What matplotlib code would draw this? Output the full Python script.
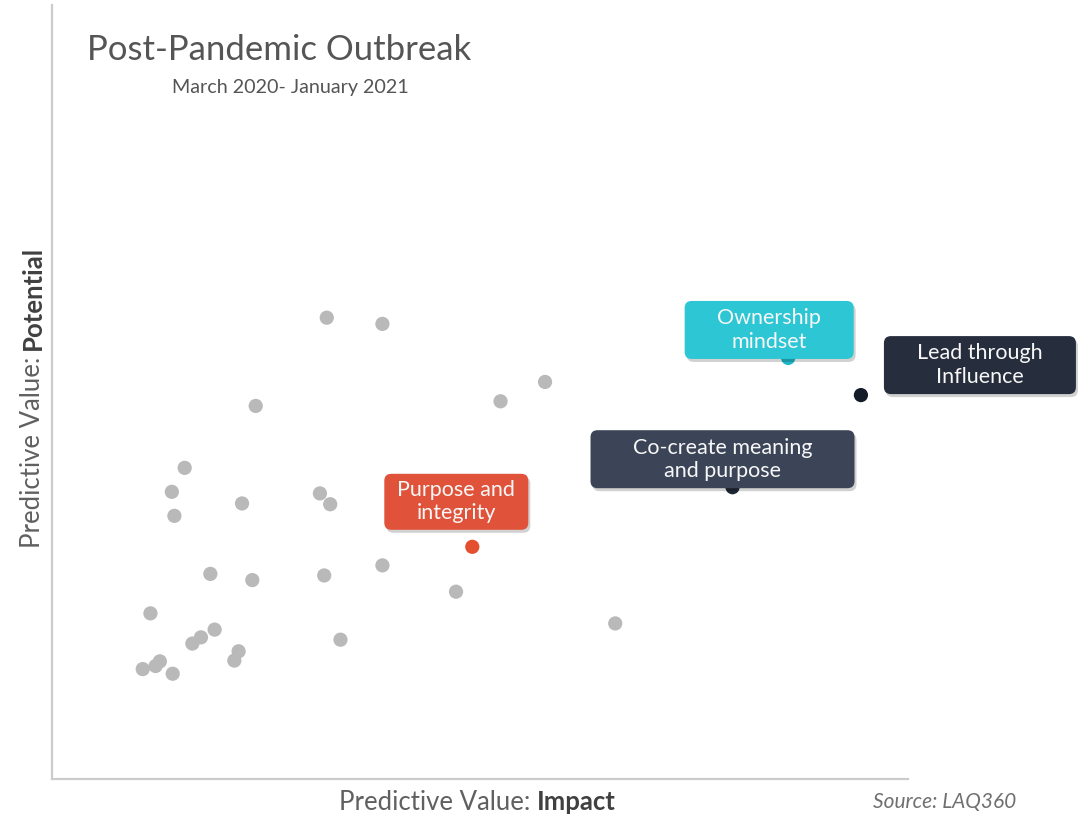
import matplotlib.pyplot as plt
import matplotlib.transforms as mtransforms
from matplotlib.patches import FancyBboxPatch

plt.rcParams['font.family'] = ['Lato', 'DejaVu Sans']

# background competencies (impact, potential)
gray_x = [32.1, 38.6, 23.8, 15.5, 14.0, 14.3, 22.2, 31.3, 32.5, 18.5, 23.4, 31.8, 38.6, 47.2,
          65.8, 11.5, 19.0, 17.4, 16.4, 21.8, 21.3, 33.7, 10.6, 12.6, 12.1, 14.1, 57.6, 52.4]
gray_y = [59.6, 58.8, 48.2, 40.2, 37.1, 34.0, 35.6, 36.9, 35.5, 26.5, 25.7, 26.3, 27.6, 24.2,
          20.1, 21.4, 19.3, 18.3, 17.5, 16.5, 15.3, 18.0, 14.2, 15.2, 14.6, 13.6, 51.3, 48.8]

# highlighted competencies
hl_labels = ['Purpose and\nintegrity', 'Co-create meaning\nand purpose',
             'Ownership\nmindset', 'Lead through\nInfluence']
hl_x = [49.1, 79.5, 86.0, 94.5]
hl_y = [30.0, 37.7, 54.4, 49.6]
hl_dot = ['#e4502f', '#1f2735', '#1fb7c6', '#141b29']
hl_box = ['#e0533a', '#3c4558', '#2cc6d4', '#262d3c']
# label box: centre offset from the point and size, in pixels
box_dx = [-16, -10, -19, 119]
box_dy = [45, 28, 28, 30]
box_w = [144, 264, 169, 192]
box_h = [56, 58, 58, 58]

fig = plt.figure(figsize=(10.84, 8.17), dpi=100)
ax = fig.add_axes([52 / 1084, 38 / 817, 856 / 1084, 774 / 817])
ax.set_xlim(0, 100)
ax.set_ylim(0, 100)
ax.set_xticks([])
ax.set_yticks([])
for side in ['top', 'right']:
    ax.spines[side].set_visible(False)
for side in ['left', 'bottom']:
    ax.spines[side].set_color('#cccccc')
    ax.spines[side].set_linewidth(1.6)

ax.scatter(gray_x, gray_y, s=105, color='#b9b9b9', edgecolors='none', zorder=2)
ax.scatter(hl_x, hl_y, s=105, c=hl_dot, edgecolors='none', zorder=3)

px = 1 / 100  # one pixel in inches
for i in range(len(hl_labels)):
    trans = fig.dpi_scale_trans + mtransforms.ScaledTranslation(hl_x[i], hl_y[i], ax.transData)
    x0 = (box_dx[i] - box_w[i] / 2) * px
    y0 = (box_dy[i] - box_h[i] / 2) * px
    shadow = FancyBboxPatch((x0 + 2 * px, y0 - 3 * px), box_w[i] * px, box_h[i] * px,
                            boxstyle='round,pad=0,rounding_size=0.07', transform=trans,
                            facecolor='#000000', alpha=0.18, edgecolor='none',
                            zorder=4, clip_on=False)
    box = FancyBboxPatch((x0, y0), box_w[i] * px, box_h[i] * px,
                         boxstyle='round,pad=0,rounding_size=0.07', transform=trans,
                         facecolor=hl_box[i], edgecolor='none', zorder=5, clip_on=False)
    ax.add_patch(shadow)
    ax.add_patch(box)
    ax.text(box_dx[i] * px, box_dy[i] * px, hl_labels[i], transform=trans,
            ha='center', va='center', color='#f7f7f7', fontsize=15.5,
            linespacing=1.2, zorder=6, clip_on=False)

fig.text(87 / 1084, 1 - 50 / 817, 'Post-Pandemic Outbreak', fontsize=25,
         color='#555555', va='center')
fig.text(172 / 1084, 1 - 88 / 817, 'March 2020- January 2021', fontsize=14.2,
         color='#555555', va='center')

# axis titles with a bold final word
xl = fig.text(339 / 1084, 1 - 802 / 817, 'Predictive Value: ', fontsize=18.5,
              color='#606060', va='center')
ax.annotate('Impact', xy=(1, 0.5), xycoords=xl, va='center', fontsize=18.5,
            color='#404040', fontweight='bold')
yl = fig.text(33 / 1084, 1 - 548 / 817, 'Predictive Value: ', fontsize=18.5,
              color='#606060', rotation=90, ha='center', va='bottom')
ax.annotate('Potential', xy=(0.5, 1), xycoords=yl, ha='center', va='bottom',
            rotation=90, fontsize=18.5, color='#404040', fontweight='bold')

fig.text(873 / 1084, 1 - 802 / 817, 'Source: LAQ360', fontsize=15, style='italic',
         color='#707070', va='center')

fig.savefig('out.png', dpi=100, facecolor='white')
